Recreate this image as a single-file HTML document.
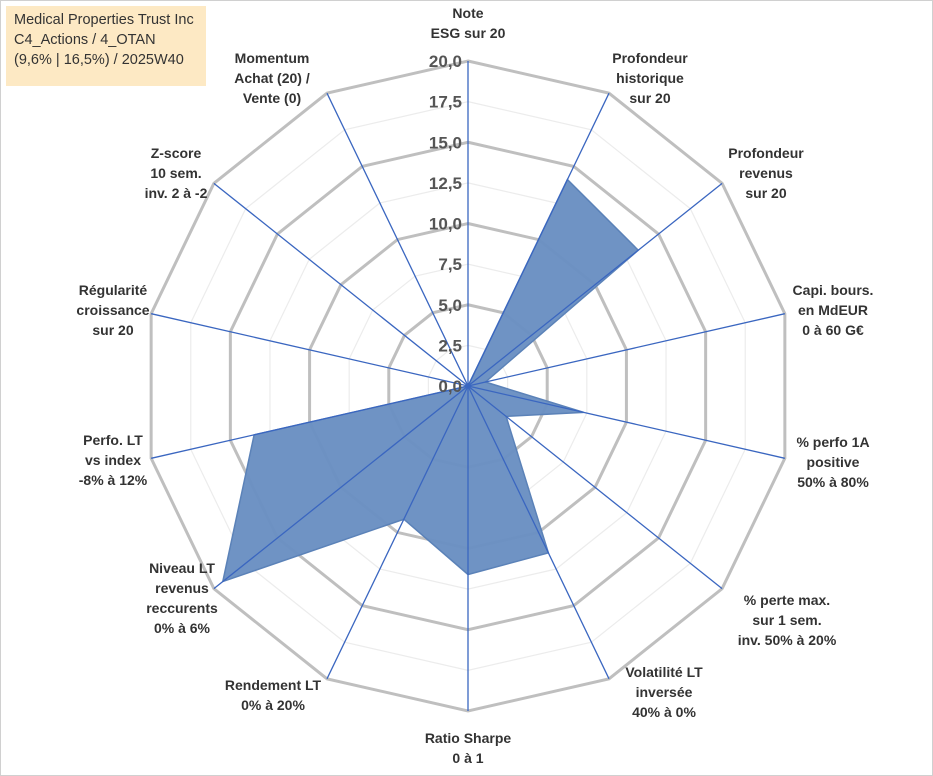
<!DOCTYPE html>
<html><head><meta charset="utf-8"><style>
body{margin:0;background:#fff;}
#c{position:relative;width:933px;height:776px;overflow:hidden;font-family:"Liberation Sans",sans-serif;}
.frame{position:absolute;left:0;top:0;width:931px;height:774px;border:1px solid #d0d0d0;}
.title{position:absolute;left:6px;top:6px;width:200px;height:80px;background:#fde9c4;color:#333;font-size:14.5px;line-height:20px;padding:4px 8px;box-sizing:border-box;}
.lbl{position:absolute;font-size:14px;font-weight:bold;color:#333;text-align:center;line-height:20px;white-space:nowrap;transform:translate(-50%,-50%);}
</style></head><body>
<div id="c">
<div class="frame"></div>
<svg id="s" width="933" height="776" style="position:absolute;left:0;top:0"></svg>
<div class="title">Medical Properties Trust Inc<br>C4_Actions / 4_OTAN<br>(9,6% | 16,5%) / 2025W40</div>
<div id="labels"></div>
</div>
<script>
const categories=["Note\nESG sur 20","Profondeur\nhistorique\nsur 20","Profondeur\nrevenus\nsur 20","Capi. bours.\nen MdEUR\n0 à 60 G€","% perfo 1A\npositive\n50% à 80%","% perte max.\nsur 1 sem.\ninv. 50% à 20%","Volatilité LT\ninversée\n40% à 0%","Ratio Sharpe\n0 à 1","Rendement LT\n0% à 20%","Niveau LT\nrevenus\nreccurents\n0% à 6%","Perfo. LT\nvs index\n-8% à 12%","Régularité\ncroissance\nsur 20","Z-score\n10 sem.\ninv. 2 à -2","Momentum\nAchat (20) /\nVente (0)"];
const values=[0,14.1,13.4,1.1,7.3,3.0,11.4,11.6,9.1,19.3,13.5,0,0,0];
const tickLabels=["0,0","2,5","5,0","7,5","10,0","12,5","15,0","17,5","20,0"];
const maxVal=20;
const cx=468,cy=386,R=325,N=categories.length;
const labelPos=[[468,23],[650,78],[766,173],[833,310],[833,462],[787,620],[664,692],[468,748],[273,695],[182,598],[113,460],[113,310],[176,173],[272,78]];
const ns="http://www.w3.org/2000/svg",svg=document.getElementById('s');
function ang(i){return i*2*Math.PI/N;}
function pt(i,v){const r=v/maxVal*R;return [cx+r*Math.sin(ang(i)),cy-r*Math.cos(ang(i))];}
function mk(t,a){const e=document.createElementNS(ns,t);for(const k in a)e.setAttribute(k,a[k]);svg.appendChild(e);return e;}
tickLabels.forEach((t,k)=>{if(k===0)return;const v=k*maxVal/(tickLabels.length-1);
 const major=k%2===0;
 const p=categories.map((_,i)=>pt(i,v).join(',')).join(' ');
 const e=mk('polygon',{points:p,fill:'none',stroke:major?'#bfbfbf':'#ececec','stroke-width':major?3:1.2});
 
 });
const poly=mk('polygon',{points:values.map((v,i)=>pt(i,v).join(',')).join(' '),fill:'#6a8fc2','fill-opacity':0.97,stroke:'#5b82b8','stroke-width':1.5});


categories.forEach((c,i)=>{const [x,y]=pt(i,maxVal);
 const l=mk('line',{x1:cx,y1:cy,x2:x,y2:y,stroke:'#3a66c0','stroke-width':1.3});
 
 });
tickLabels.forEach((t,k)=>{const v=k*maxVal/(tickLabels.length-1);const y=cy-v/maxVal*R;
 const e=mk('text',{x:cx-6,y:y+6,'text-anchor':'end','font-size':17,'font-weight':'bold',fill:'#555','font-family':'Liberation Sans, sans-serif'});
 e.textContent=t;
 
 });
const L=document.getElementById('labels');
categories.forEach((c,i)=>{const lines=c.split('\n');const [x,y]=labelPos[i];
 const d=document.createElement('div');d.className='lbl';d.style.left=x+'px';d.style.top=y+'px';
 d.innerHTML=lines.join('<br>');
 
 
 L.appendChild(d);});
</script>
</body></html>
